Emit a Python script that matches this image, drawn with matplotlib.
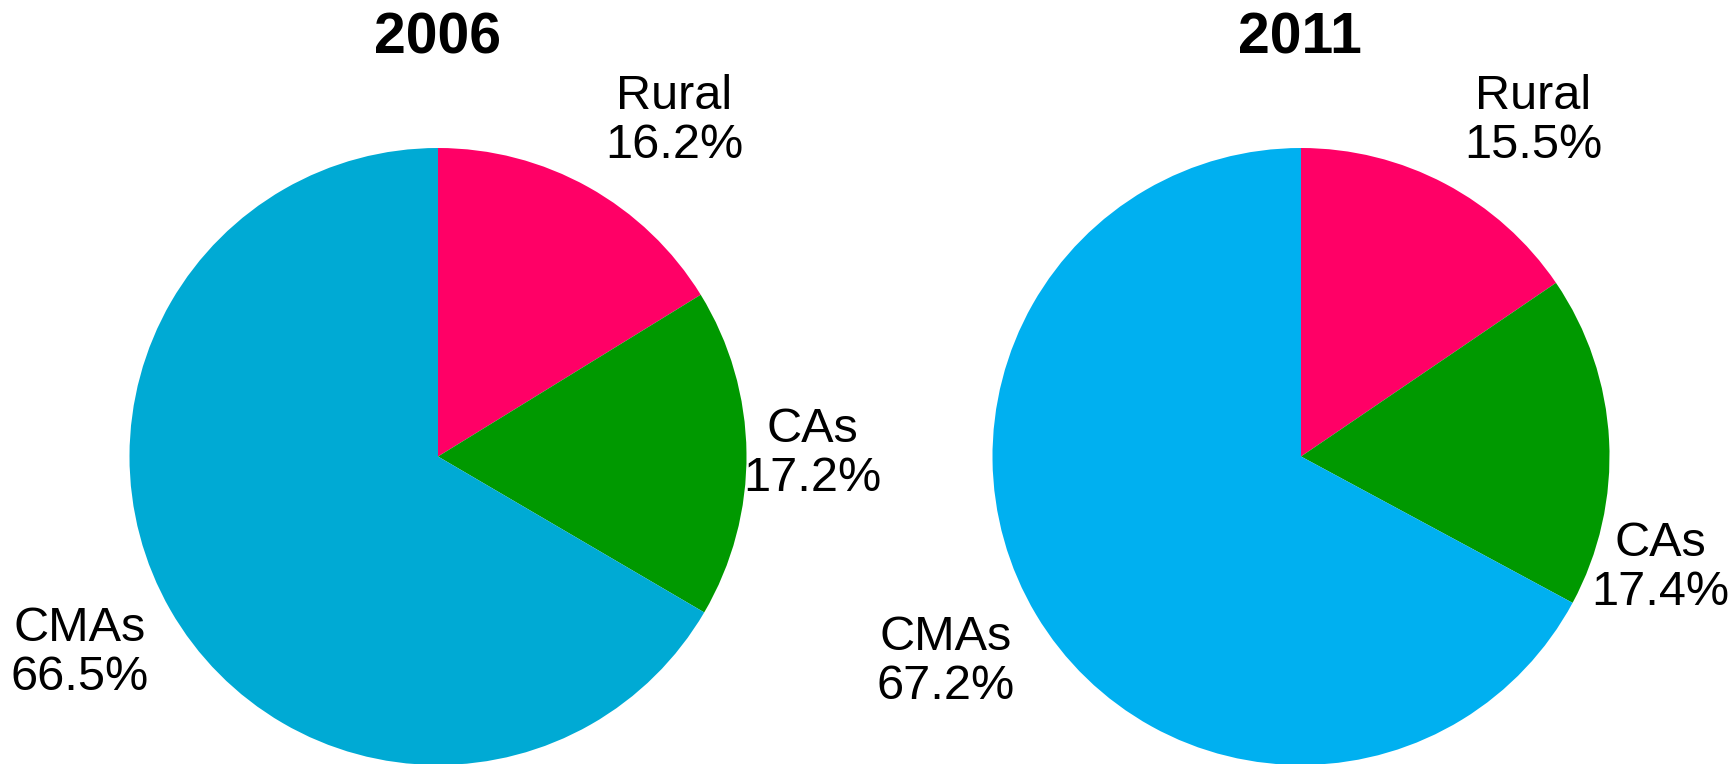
import matplotlib
matplotlib.use("Agg")
import matplotlib.pyplot as plt

plt.rcParams['font.family'] = ['Liberation Sans', 'DejaVu Sans']

years = ["2006", "2011"]
categories = ["Rural", "CAs", "CMAs"]
values_2006 = [16.2, 17.2, 66.5]
values_2011 = [15.5, 17.4, 67.2]
series = [values_2006, values_2011]

colors_2006 = ["#FF0066", "#009900", "#00AAD4"]
colors_2011 = ["#FF0066", "#009900", "#00B0F0"]
palettes = [colors_2006, colors_2011]

W, H = 1735, 764
fig = plt.figure(figsize=(W / 100, H / 100), dpi=100)
ax = fig.add_axes([0, 0, 1, 1])

# layout (pixel positions, top-left origin)
centers = [(438, 456.5), (1301, 456.5)]
radius = 308.5
title_pos = [(437, 38), (1300, 38)]
label_pos = [
    [(674, 121), (812, 454), (80, 653)],
    [(1533, 121), (1660, 568), (946, 662)],
]

for i, (vals, cols) in enumerate(zip(series, palettes)):
    cx, cy = centers[i]
    ax.pie(vals, colors=cols, startangle=90, counterclock=False,
           center=(cx, H - cy), radius=radius, frame=True,
           wedgeprops=dict(linewidth=0))
    tx, ty = title_pos[i]
    ax.text(tx, H - ty, years[i], ha='center', va='center',
            fontsize=41, fontweight='bold')
    for cat, v, (lx, ly) in zip(categories, vals, label_pos[i]):
        ax.text(lx, H - ly, f"{cat}\n{v:.1f}%", ha='center', va='center',
                fontsize=35, linespacing=1.12)

ax.set_xlim(0, W)
ax.set_ylim(0, H)
ax.set_aspect('equal')
ax.axis('off')
fig.savefig("out.png", dpi=100)
